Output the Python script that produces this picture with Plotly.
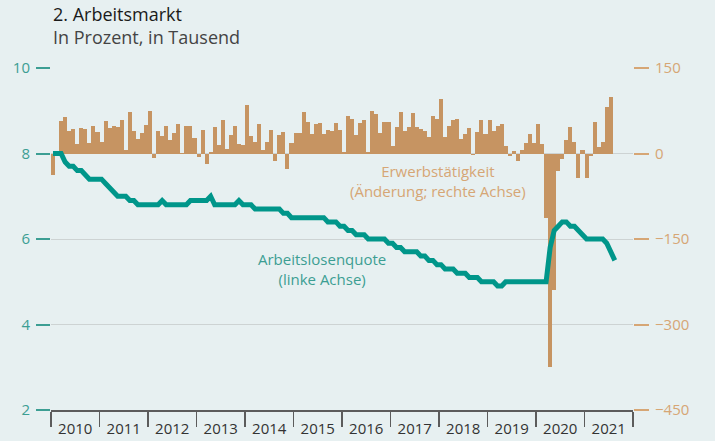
import plotly.graph_objects as go

# ---------------- data ----------------
years = ["2010", "2011", "2012", "2013", "2014", "2015",
         "2016", "2017", "2018", "2019", "2020", "2021"]

# Erwerbstätigkeit, Änderung zum Vormonat in Tausend (Jan 2010 – Jul 2021), rechte Achse
employment_change = [
    -37, 0, 57, 64, 40, 43, 17, 44, 43, 19, 49, 37,
    20, 57, 44, 48, 47, 58, 7, 73, 39, 25, 36, 50,
    74, -8, 40, 30, 49, 24, 36, 51, 1, 48, 49, 28,
    -6, 42, -18, 2, 47, 15, 59, 8, 32, 49, 17, 15,
    85, 31, 20, 51, 6, 21, 41, -14, 32, 37, -27, 18,
    36, 36, 73, 56, 35, 51, 54, 34, 42, 40, 53, 41,
    2, 65, 61, 32, 53, 58, 2, 75, 69, 36, 55, 56,
    13, 46, 72, 40, 46, 71, 46, 43, 40, 29, 65, 61,
    95, 29, 49, 58, 60, 26, 34, 44, -2, 37, 58, 35,
    58, 39, 48, 52, 14, -5, 5, -14, 6, 19, 34, 18,
    52, 17, -113, -374, -239, -30, -10, 23, 46, 21, -43, 6,
    -43, -5, 56, 11, 20, 81, 99,
]

# Arbeitslosenquote in Prozent (Jan 2010 – Aug 2021), linke Achse
unemployment_rate = [
    8.0, 8.0, 8.0, 7.8, 7.7, 7.7, 7.6, 7.6, 7.5, 7.4, 7.4, 7.4,
    7.4, 7.3, 7.2, 7.1, 7.0, 7.0, 7.0, 6.9, 6.9, 6.8, 6.8, 6.8,
    6.8, 6.8, 6.8, 6.9, 6.8, 6.8, 6.8, 6.8, 6.8, 6.8, 6.9, 6.9,
    6.9, 6.9, 6.9, 7.0, 6.8, 6.8, 6.8, 6.8, 6.8, 6.8, 6.9, 6.8,
    6.8, 6.8, 6.7, 6.7, 6.7, 6.7, 6.7, 6.7, 6.7, 6.6, 6.6, 6.5,
    6.5, 6.5, 6.5, 6.5, 6.5, 6.5, 6.5, 6.5, 6.4, 6.4, 6.4, 6.3,
    6.3, 6.2, 6.2, 6.1, 6.1, 6.1, 6.0, 6.0, 6.0, 6.0, 6.0, 5.9,
    5.9, 5.8, 5.8, 5.7, 5.7, 5.7, 5.7, 5.6, 5.6, 5.5, 5.5, 5.4,
    5.4, 5.3, 5.3, 5.3, 5.2, 5.2, 5.2, 5.1, 5.1, 5.1, 5.0, 5.0,
    5.0, 5.0, 4.9, 4.9, 5.0, 5.0, 5.0, 5.0, 5.0, 5.0, 5.0, 5.0,
    5.0, 5.0, 5.0, 5.8, 6.2, 6.3, 6.4, 6.4, 6.3, 6.3, 6.2, 6.1,
    6.0, 6.0, 6.0, 6.0, 6.0, 5.9, 5.7, 5.5,
]

left_ticks = [2, 4, 6, 8, 10]
right_ticks = [-450, -300, -150, 0, 150]

# ---------------- style ----------------
BG = "#e7f0f1"
TEAL = "#00968a"
TEAL_TXT = "#3c9e93"
TAN = "#c69462"
TAN_TXT = "#d6a675"
GRID = "#cdd3d3"
AXIS = "#5c5c5c"
FONT = "Open Sans"

months_per_year = 12
bar_x = [i + 0.5 for i in range(len(employment_change))]
line_x = [i + 0.5 for i in range(len(unemployment_rate))]

fig = go.Figure()
fig.add_trace(go.Bar(
    x=bar_x, y=employment_change, width=1.0,
    marker=dict(color=TAN, line=dict(width=0)),
    yaxis="y", hoverinfo="skip",
))
fig.add_trace(go.Scatter(
    x=line_x, y=unemployment_rate, mode="lines",
    line=dict(color=TEAL, width=5),
    yaxis="y2", hoverinfo="skip",
))

n_years = len(years)
fig.update_layout(
    width=715, height=441,
    margin=dict(l=51, r=82, t=68, b=31, autoexpand=False),
    paper_bgcolor=BG, plot_bgcolor=BG,
    showlegend=False, bargap=0, hovermode=False,
    font=dict(family=FONT, size=15, color="#333333"),
    xaxis=dict(
        range=[0, n_years * months_per_year], automargin=False,
        tickvals=[months_per_year * i + months_per_year / 2 for i in range(n_years)],
        ticktext=years, ticks="", showgrid=False, zeroline=False,
        showline=True, linecolor=AXIS, linewidth=1.5,
        tickfont=dict(size=15, color="#333333"),
        ticklabelstandoff=4,
        minor=dict(
            tickvals=[months_per_year * i for i in range(n_years + 1)],
            ticks="outside", ticklen=15, tickcolor=AXIS, tickwidth=1.5,
            showgrid=False,
        ),
    ),
    yaxis=dict(
        side="right", range=[-450, 150], tickvals=right_ticks, automargin=False,
        showgrid=True, gridcolor=GRID, gridwidth=1, zeroline=False,
        ticks="outside", ticklen=15, tickcolor=TAN_TXT, tickwidth=2,
        tickfont=dict(size=15, color=TAN_TXT), ticklabelstandoff=3,
        showline=False,
    ),
    yaxis2=dict(
        side="left", overlaying="y", range=[2, 10], tickvals=left_ticks,
        automargin=False, showgrid=False, zeroline=False,
        ticks="outside", ticklen=14, tickcolor=TEAL_TXT, tickwidth=2,
        tickfont=dict(size=15, color=TEAL_TXT), ticklabelstandoff=3,
        showline=False,
    ),
    annotations=[
        dict(text="2. Arbeitsmarkt", xref="paper", yref="paper",
             x=0.0, y=(410 - 14) / 342, xanchor="left", yanchor="middle",
             showarrow=False, font=dict(size=18, color="#1a1a1a", family=FONT)),
        dict(text="In Prozent, in Tausend", xref="paper", yref="paper",
             x=0.0, y=(410 - 37) / 342, xanchor="left", yanchor="middle",
             showarrow=False, font=dict(size=18, color="#444444", family=FONT)),
        dict(text="Erwerbstätigkeit<br>(Änderung; rechte Achse)",
             xref="x", yref="y2", x=95.8, y=7.35, xanchor="center", yanchor="middle",
             showarrow=False, align="center",
             font=dict(size=15, color=TAN_TXT, family=FONT)),
        dict(text="Arbeitslosenquote<br>(linke Achse)",
             xref="x", yref="y2", x=67.1, y=5.31, xanchor="center", yanchor="middle",
             showarrow=False, align="center",
             font=dict(size=15, color=TEAL_TXT, family=FONT)),
    ],
)

fig.write_html(
    "out.html",
    config={"displayModeBar": False, "staticPlot": True},
    post_script="document.body.style.margin='0';document.body.style.padding='0';",
)
